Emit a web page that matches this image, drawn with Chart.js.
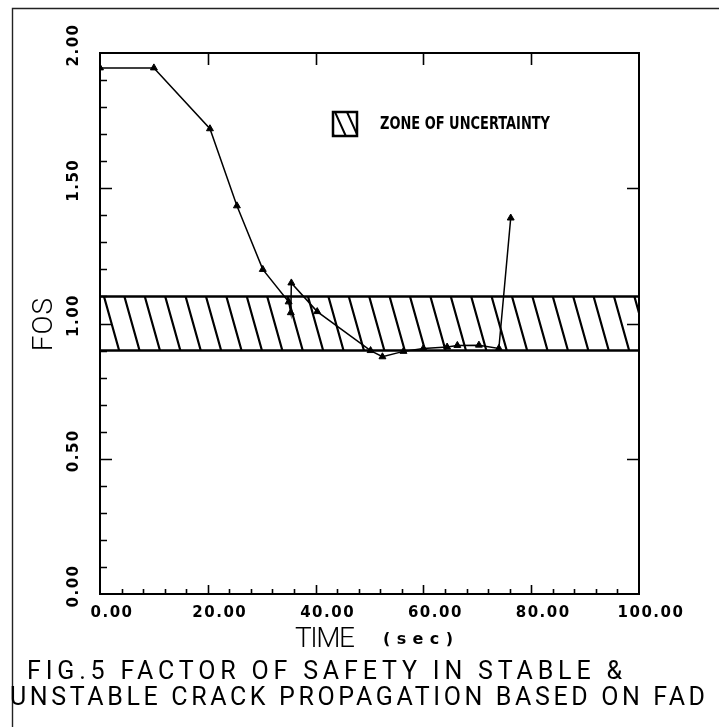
<!DOCTYPE html>
<html><head><meta charset="utf-8">
<script src="https://cdn.jsdelivr.net/npm/chart.js@4.4.1/dist/chart.umd.min.js"></script>
<style>html,body{margin:0;padding:0;background:#fff;}canvas{display:block;}</style>
</head><body>
<canvas id="c" width="719" height="727"></canvas>
<script>
// ---- data ----
const timeSec = [0, 10, 20.4, 25.4, 30.2, 35.0, 35.4, 35.5, 40.3, 50.2, 52.4, 56.3, 60.0, 64.4, 66.3, 70.3, 74.0, 76.2];
const fosValues = [1.945, 1.945, 1.72, 1.435, 1.20, 1.08, 1.04, 1.15, 1.044, 0.90, 0.877, 0.897, 0.908, 0.913, 0.919, 0.92, 0.908, 1.39];
const zoneBounds = [0.9, 1.1];
const xRange = [0, 100];
const yRange = [0, 2];
const xMajorTicks = [0, 20, 40, 60, 80, 100];
const xTickLabels = ['0.00', '20.00', '40.00', '60.00', '80.00', '100.00'];
const yMajorTicks = [0, 0.5, 1.0, 1.5, 2.0];
const yTickLabels = ['0.00', '0.50', '1.00', '1.50', '2.00'];
const xMinorStep = 4;
const yMinorStep = 0.1;
const legendLabel = 'ZONE OF UNCERTAINTY';
const xTitle = 'TIME';
const xUnit = '(sec)';
const yTitle = 'FOS';
const captionLines = ['FIG.5 FACTOR OF SAFETY IN STABLE &', 'UNSTABLE CRACK PROPAGATION BASED ON FAD'];

const seriesPoints = timeSec.map((t, i) => ({x: t, y: fosValues[i]}));
const zoneLowLine = xRange.map(v => ({x: v, y: zoneBounds[0]}));
const zoneHighLine = xRange.map(v => ({x: v, y: zoneBounds[1]}));

function hatch(ctx, l, t, r, b, step, slantPerPx, phase, lw) {
  ctx.save();
  ctx.beginPath(); ctx.rect(l, t, r - l, b - t); ctx.clip();
  ctx.strokeStyle = '#000'; ctx.lineWidth = lw;
  const h = b - t, dx = h * slantPerPx;
  ctx.beginPath();
  for (let px = l + phase - Math.ceil((dx + step) / step) * step; px < r + step; px += step) {
    ctx.moveTo(px, t); ctx.lineTo(px + dx, b);
  }
  ctx.stroke();
  ctx.restore();
}

function spacedText(ctx, text, left, baseline, target) {
  ctx.letterSpacing = '0px';
  const w = ctx.measureText(text).width;
  const ls = (target - w) / (text.length - 1);
  ctx.letterSpacing = ls + 'px';
  ctx.textAlign = 'left';
  ctx.fillText(text, left, baseline);
  ctx.letterSpacing = '0px';
}

const zonePlugin = {
  id: 'zone',
  beforeDatasetsDraw(chart) {
    const {ctx, scales: {x, y}} = chart;
    const l = x.getPixelForValue(xRange[0]), r = x.getPixelForValue(xRange[1]);
    const t = y.getPixelForValue(zoneBounds[1]), b = y.getPixelForValue(zoneBounds[0]);
    hatch(ctx, l, t, r, b, 20.4, 0.28, 4, 2.2);
  }
};

const framePlugin = {
  id: 'frame',
  afterDatasetsDraw(chart) {
    const {ctx, chartArea: a, scales: {x, y}} = chart;
    ctx.save();
    ctx.strokeStyle = '#000';
    ctx.lineWidth = 2;
    ctx.strokeRect(a.left, a.top, a.right - a.left, a.bottom - a.top);
    ctx.lineWidth = 1.6;
    ctx.beginPath();
    const nY = Math.round((yRange[1] - yRange[0]) / yMinorStep);
    for (let i = 1; i < nY; i++) {
      const v = yRange[0] + i * yMinorStep;
      const py = Math.round(y.getPixelForValue(v)) + 0.5;
      const major = yMajorTicks.some(m => Math.abs(m - v) < 1e-6);
      ctx.moveTo(a.left, py); ctx.lineTo(a.left + (major ? 12 : 7), py);
      if (major) { ctx.moveTo(a.right, py); ctx.lineTo(a.right - 12, py); }
    }
    const nX = Math.round((xRange[1] - xRange[0]) / xMinorStep);
    for (let i = 1; i < nX; i++) {
      const v = xRange[0] + i * xMinorStep;
      const px = Math.round(x.getPixelForValue(v)) + 0.5;
      ctx.moveTo(px, a.bottom); ctx.lineTo(px, a.bottom - 5);
    }
    xMajorTicks.forEach(v => {
      if (v <= xRange[0] || v >= xRange[1]) return;
      const px = Math.round(x.getPixelForValue(v)) + 0.5;
      ctx.moveTo(px, a.bottom); ctx.lineTo(px, a.bottom - 9);
      ctx.moveTo(px, a.top); ctx.lineTo(px, a.top + 12);
    });
    ctx.stroke();

    // legend
    const lx = 333, ly = 112, ls = 24;
    hatch(ctx, lx, ly, lx + ls, ly + ls, 12, 0.45, 2, 2);
    ctx.lineWidth = 2.5;
    ctx.strokeRect(lx, ly, ls, ls);
    ctx.fillStyle = '#000';
    ctx.font = "bold 17px 'DejaVu Sans Condensed', 'DejaVu Sans', sans-serif";
    ctx.textBaseline = 'alphabetic';
    const w = ctx.measureText(legendLabel).width;
    ctx.save();
    ctx.translate(380, 128.5);
    ctx.scale(170 / w, 1);
    ctx.textAlign = 'left';
    ctx.fillText(legendLabel, 0, 0);
    ctx.restore();
    ctx.restore();
  },
  afterDraw(chart) {
    const {ctx, scales: {x, y}} = chart;
    ctx.save();
    ctx.fillStyle = '#000';
    ctx.strokeStyle = '#222';
    ctx.lineWidth = 1.4;
    ctx.beginPath();
    ctx.moveTo(12.5, 727); ctx.lineTo(12.5, 8.5); ctx.lineTo(719, 8.5);
    ctx.stroke();

    ctx.font = "bold 15px 'DejaVu Sans', sans-serif";
    ctx.letterSpacing = '1.5px';
    ctx.textAlign = 'center';
    ctx.textBaseline = 'middle';
    xMajorTicks.forEach((v, i) => {
      ctx.fillText(xTickLabels[i], x.getPixelForValue(v) + 12, 613);
    });
    yMajorTicks.forEach((v, i) => {
      ctx.save();
      ctx.translate(74, y.getPixelForValue(v) - 8);
      ctx.rotate(-Math.PI / 2);
      ctx.fillText(yTickLabels[i], 0, 0);
      ctx.restore();
    });
    ctx.letterSpacing = '0px';

    ctx.font = "300 28px Roboto, 'DejaVu Sans', sans-serif";
    ctx.textBaseline = 'alphabetic';
    ctx.save();
    ctx.translate(52, 324);
    ctx.rotate(-Math.PI / 2);
    ctx.textAlign = 'center';
    ctx.letterSpacing = '1px';
    ctx.fillText(yTitle, 0, 0);
    ctx.restore();

    spacedText(ctx, xTitle, 295, 647, 60);
    ctx.font = "bold 16px 'DejaVu Sans', sans-serif";
    spacedText(ctx, xUnit, 383, 644, 70);

    ctx.font = "400 25px Roboto, 'DejaVu Sans', sans-serif";
    spacedText(ctx, captionLines[0], 27, 679, 595);
    spacedText(ctx, captionLines[1], 10, 705, 695);
    ctx.restore();
  }
};

new Chart(document.getElementById('c'), {
  type: 'scatter',
  data: {
    datasets: [
      {
        label: 'FOS',
        data: seriesPoints,
        showLine: true,
        borderColor: '#000',
        borderWidth: 1.5,
        pointStyle: 'triangle',
        pointRadius: 4,
        pointBackgroundColor: '#000',
        pointBorderColor: '#000',
        pointBorderWidth: 1,
        tension: 0,
        order: 0
      },
      {
        label: 'zone top',
        data: zoneHighLine,
        showLine: true,
        borderColor: '#000',
        borderWidth: 2.6,
        pointRadius: 0,
        order: 1
      },
      {
        label: 'zone bottom',
        data: zoneLowLine,
        showLine: true,
        borderColor: '#000',
        borderWidth: 2.6,
        pointRadius: 0,
        order: 1
      }
    ]
  },
  options: {
    responsive: false,
    devicePixelRatio: 1,
    animation: false,
    layout: {padding: {left: 100, top: 53, right: 80, bottom: 133}},
    scales: {
      x: {type: 'linear', min: xRange[0], max: xRange[1], display: false},
      y: {type: 'linear', min: yRange[0], max: yRange[1], display: false}
    },
    plugins: {legend: {display: false}, tooltip: {enabled: false}, title: {display: false}}
  },
  plugins: [zonePlugin, framePlugin]
});
</script>
</body></html>
